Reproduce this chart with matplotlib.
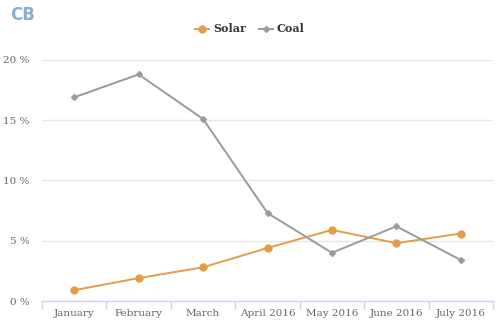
"""Solar vs coal share chart."""

import matplotlib.pyplot as plt
from matplotlib.lines import Line2D
import numpy as np

months = ["January", "February", "March", "April 2016", "May 2016", "June 2016", "July 2016"]
solar = [0.9, 1.9, 2.8, 4.4, 5.9, 4.8, 5.6]
coal = [16.9, 18.8, 15.1, 7.3, 4.0, 6.2, 3.4]
y_ticks = [0, 5, 10, 15, 20]

SOLAR_COLOR = "#e39d48"
COAL_COLOR = "#9a9a9a"
TEXT_COLOR = "#666666"
AXIS_COLOR = "#ccd6eb"
GRID_COLOR = "#e6e6e6"

plt.rcParams["font.family"] = ["DejaVu Serif"]

fig = plt.figure(figsize=(5, 3.33), dpi=100)
ax = fig.add_axes([0.084, 0.096, 0.902, 0.724])

x = np.arange(len(months))
ax.plot(x, solar, color=SOLAR_COLOR, linewidth=1.4, marker="o", markersize=5, zorder=3)
ax.plot(x, coal, color=COAL_COLOR, linewidth=1.4, marker="D", markersize=3, zorder=3)

ax.set_xlim(-0.5, len(months) - 0.5)
ax.set_ylim(0, 20)
ax.set_yticks(y_ticks)
ax.set_yticklabels([f"{v} %" for v in y_ticks])
ax.set_xticks(x)
ax.set_xticklabels(months)
ax.set_xticks(np.arange(-0.5, len(months)), minor=True)

ax.tick_params(axis="y", length=0, pad=9, labelsize=7.5, labelcolor=TEXT_COLOR)
ax.tick_params(axis="x", which="major", length=0, pad=6, labelsize=7.5, labelcolor=TEXT_COLOR)
ax.tick_params(axis="x", which="minor", length=6, width=1, color=AXIS_COLOR)

ax.grid(True, axis="y", color=GRID_COLOR, linewidth=1)
ax.set_axisbelow(True)
for side in ["top", "right", "left"]:
    ax.spines[side].set_visible(False)
ax.spines["bottom"].set_color(AXIS_COLOR)
ax.spines["bottom"].set_linewidth(1)

handles = [
    Line2D([], [], color=SOLAR_COLOR, linewidth=1.4, marker="o", markersize=5),
    Line2D([], [], color=COAL_COLOR, linewidth=1.4, marker="D", markersize=3),
]
leg = fig.legend(handles, ["Solar", "Coal"], loc="center", bbox_to_anchor=(0.5, 0.913),
                 ncol=2, frameon=False, handlelength=1.2, handletextpad=0.4,
                 columnspacing=1.2, prop={"size": 8, "weight": "bold"})
for t in leg.get_texts():
    t.set_color("#333333")

fig.text(0.02, 0.955, "CB", color="#86b0cf", fontsize=12, fontweight="bold",
         family="DejaVu Sans Condensed", va="center", ha="left")

fig.savefig("out.png", dpi=100)
